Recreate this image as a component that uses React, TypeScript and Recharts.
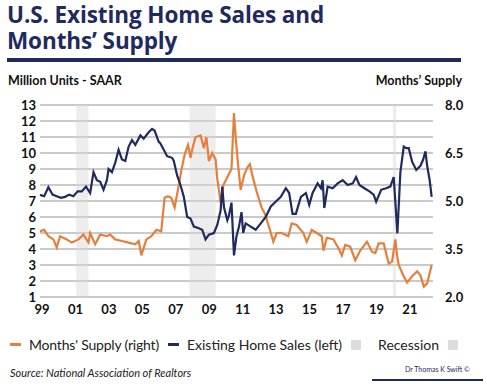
import React from 'react';
import {
  ComposedChart, Line, XAxis, YAxis, CartesianGrid, ReferenceArea,
} from 'recharts';

// Months' supply (plotted against the left scale)
const supplyT = [
  1999.0, 1999.25, 1999.5, 1999.8, 2000.0, 2000.2, 2000.6, 2000.9, 2001.3, 2001.6, 2001.9, 2002.0,
  2002.3, 2002.6, 2003.0, 2003.2, 2003.5, 2003.9, 2004.3, 2004.7, 2004.9, 2005.06, 2005.36, 2005.66,
  2005.96, 2006.25, 2006.45, 2006.65, 2006.85, 2007.05, 2007.25, 2007.45, 2007.65, 2007.85, 2008.0,
  2008.1, 2008.3, 2008.6, 2008.8, 2008.95, 2009.1, 2009.3, 2009.5, 2009.6, 2009.8, 2009.97, 2010.25,
  2010.45, 2010.6, 2010.7, 2010.85, 2011.0, 2011.2, 2011.4, 2011.55, 2011.7, 2011.95, 2012.25, 2012.45,
  2012.75, 2012.95, 2013.15, 2013.45, 2013.85, 2014.05, 2014.35, 2014.75, 2014.95, 2015.25, 2015.55,
  2015.85, 2015.95, 2016.15, 2016.55, 2016.85, 2017.05, 2017.25, 2017.55, 2017.85, 2018.15, 2018.55,
  2018.85, 2019.05, 2019.25, 2019.55, 2019.85, 2020.05, 2020.25, 2020.35, 2020.45, 2020.75, 2020.95,
  2021.25, 2021.55, 2021.75, 2021.95, 2022.15, 2022.42,
];
const supplyV = [
  5.1, 5.2, 4.8, 4.6, 4.1, 4.8, 4.6, 4.4, 4.6, 4.9, 4.4, 5.0,
  4.3, 4.9, 4.8, 4.9, 4.6, 4.5, 4.4, 4.3, 4.5, 3.6, 4.6, 4.8,
  5.2, 5.1, 7.2, 7.3, 7.2, 6.6, 7.7, 8.9, 9.9, 10.5, 9.7,
  10.2, 11.0, 11.1, 10.3, 11.0, 9.5, 10.0, 9.6, 8.4, 6.9, 8.0, 8.6,
  9.0, 12.5, 11.0, 9.2, 7.7, 8.6, 9.1, 9.3, 8.6, 7.6, 6.6, 6.2,
  5.2, 4.45, 5.0, 5.0, 4.8, 5.6, 5.5, 5.0, 4.45, 5.2, 5.0,
  4.8, 3.9, 4.7, 4.6, 4.05, 3.6, 4.25, 4.15, 3.3, 3.9, 4.45,
  3.83, 3.75, 4.35, 4.35, 3.1, 3.2, 4.6, 3.6, 3.0, 2.3, 1.9,
  2.3, 2.6, 2.35, 1.65, 1.85, 3.0,
];

// Existing home sales, million units SAAR (plotted against the right scale)
const salesT = [
  1999.0, 1999.25, 1999.5, 1999.75, 2000.0, 2000.25, 2000.5, 2000.75, 2001.0, 2001.25, 2001.5, 2001.75,
  2002.0, 2002.2, 2002.4, 2002.6, 2002.8, 2003.0, 2003.1, 2003.3, 2003.5, 2003.7, 2003.9, 2004.1,
  2004.3, 2004.5, 2004.7, 2005.0, 2005.2, 2005.5, 2005.7, 2005.85, 2006.1, 2006.2, 2006.4, 2006.6,
  2006.9, 2007.0, 2007.2, 2007.4, 2007.6, 2007.8, 2008.0, 2008.2, 2008.5, 2008.7, 2008.9, 2009.1,
  2009.4, 2009.6, 2009.8, 2009.9, 2010.0, 2010.2, 2010.3, 2010.45, 2010.6, 2010.75, 2010.9, 2011.05,
  2011.15, 2011.3, 2011.6, 2011.9, 2012.2, 2012.5, 2012.8, 2013.2, 2013.4, 2013.7, 2013.9, 2014.1,
  2014.3, 2014.6, 2014.9, 2015.1, 2015.3, 2015.6, 2015.8, 2015.9, 2016.0, 2016.2, 2016.5, 2016.8,
  2017.1, 2017.4, 2017.7, 2017.9, 2018.1, 2018.4, 2018.7, 2018.95, 2019.1, 2019.4, 2019.7, 2019.95,
  2020.15, 2020.37, 2020.55, 2020.75, 2020.9, 2021.05, 2021.25, 2021.5, 2021.75, 2021.9, 2022.05,
  2022.15, 2022.3, 2022.42,
];
const salesV = [
  5.19, 5.15, 5.43, 5.2, 5.15, 5.1, 5.13, 5.2, 5.15, 5.3, 5.3, 5.45,
  5.25, 5.9, 5.65, 5.6, 5.35, 5.65, 6.0, 5.9, 6.2, 6.6, 6.3, 6.25,
  6.7, 6.9, 6.75, 7.05, 6.95, 7.15, 7.25, 7.2, 6.85, 6.8, 6.6, 6.4,
  6.35, 6.25, 5.8, 5.5, 5.13, 4.5, 4.45, 4.2, 4.15, 4.1, 3.8, 3.95,
  4.0, 4.25, 4.7, 5.45, 4.8, 4.4, 4.55, 4.95, 3.3, 3.9, 4.2, 4.65,
  4.0, 4.3, 4.2, 4.1, 4.3, 4.5, 4.83, 5.03, 5.13, 5.4, 5.25, 4.6,
  4.6, 5.13, 5.25, 4.88, 5.25, 5.55, 5.4, 5.65, 4.78, 5.45, 5.4, 5.55,
  5.65, 5.5, 5.55, 5.75, 5.5, 5.4, 5.3, 5.2, 4.98, 5.35, 5.4, 5.45,
  5.75, 3.99, 5.9, 6.7, 6.65, 6.65, 6.23, 5.97, 6.1, 6.28, 6.55,
  6.1, 5.65, 5.13,
];

const yearTicks = [1999, 2001, 2003, 2005, 2007, 2009, 2011, 2013, 2015, 2017, 2019, 2021];
const leftTicks = [1, 2, 3, 4, 5, 6, 7, 8, 9, 10, 11, 12, 13];
const rightTicks = [2.0, 3.5, 5.0, 6.5, 8.0];
const recessions = [[2001.17, 2001.9], [2007.95, 2009.5], [2020.1, 2020.3]];

const supplyData = supplyT.map((t, i) => ({ t, supply: supplyV[i] }));
const salesData = salesT.map((t, i) => ({ t, sales: salesV[i] }));

const NAVY = '#1f2a5e';
const ORANGE = '#e57f3c';
const FONT = 'Lato, "Open Sans", sans-serif';

const App = () => {
  const tickStyle = { fontSize: 13, fontWeight: 700, fill: '#111', fontFamily: FONT };
  const titleLine = {
    position: 'absolute' as const, left: 7, fontSize: 22.5, fontWeight: 700, lineHeight: '24px',
    color: NAVY, fontFamily: '"Open Sans", sans-serif', letterSpacing: -0.1, whiteSpace: 'nowrap' as const,
  };
  return (
    <div style={{ position: 'absolute', left: 0, top: 0, width: 487, height: 384, background: '#fff', fontFamily: FONT, overflow: 'hidden' }}>
      <div style={{ ...titleLine, top: 3 }}>U.S. Existing Home Sales and</div>
      <div style={{ ...titleLine, top: 29 }}>Months’ Supply</div>
      <div style={{ position: 'absolute', left: 7, top: 58, width: 454, height: 4, background: NAVY }} />
      <div style={{ position: 'absolute', left: 8, top: 73, fontSize: 12.5, fontWeight: 700, color: '#111' }}>Million Units - SAAR</div>
      <div style={{ position: 'absolute', right: 25, top: 73, fontSize: 12.5, fontWeight: 700, color: '#111' }}>Months’ Supply</div>

      <div style={{ position: 'absolute', left: 0, top: 0 }}>
        <ComposedChart width={487} height={330} margin={{ top: 105, right: 0, bottom: 3, left: 0 }}>
          <CartesianGrid vertical={false} stroke="#b9b9b9" strokeWidth={1.3} yAxisId="left" />
          <XAxis
            type="number"
            dataKey="t"
            domain={[1999, 2022.5]}
            ticks={yearTicks.map((y) => y + 0.12)}
            tickFormatter={(v) => String(Math.floor(v) % 100).padStart(2, '0')}
            axisLine={false}
            tickLine={false}
            tick={tickStyle}
            height={30}
            allowDuplicatedCategory={false}
          />
          <YAxis
            yAxisId="left"
            domain={[1, 13]}
            ticks={leftTicks}
            axisLine={false}
            tickLine={false}
            tickSize={2}
            tick={tickStyle}
            width={40}
            interval={0}
          />
          <YAxis
            yAxisId="right"
            orientation="right"
            domain={[2, 8]}
            ticks={rightTicks}
            tickFormatter={(v) => v.toFixed(1)}
            axisLine={false}
            tickLine={false}
            tickSize={10}
            tick={{ ...tickStyle, textAnchor: 'start' }}
            width={54}
            interval={0}
          />
          {recessions.map(([a, b], i) => (
            <ReferenceArea key={i} yAxisId="left" x1={a} x2={b} y1={1} y2={13} fill="#d6d6d6" fillOpacity={0.45} stroke="none" ifOverflow="hidden" />
          ))}
          <Line yAxisId="left" data={supplyData} dataKey="supply" type="linear" stroke={ORANGE} strokeWidth={2.2} dot={false} isAnimationActive={false} />
          <Line yAxisId="right" data={salesData} dataKey="sales" type="linear" stroke={NAVY} strokeWidth={2.2} dot={false} isAnimationActive={false} />
        </ComposedChart>
      </div>

      <div style={{ position: 'absolute', left: 10, top: 336, fontSize: 14, color: '#222', display: 'flex', alignItems: 'center', whiteSpace: 'nowrap' }}>
        <span style={{ display: 'inline-block', width: 11, height: 3, background: ORANGE, marginRight: 8 }} />
        <span style={{ letterSpacing: -0.2 }}>Months' Supply (right)</span>
        <span style={{ display: 'inline-block', width: 11, height: 3, background: NAVY, margin: '0 8px 0 9px' }} />
        <span>Existing Home Sales (left)</span>
        <span style={{ display: 'inline-block', width: 10, height: 10, background: '#dcdcdc', margin: '0 17px 0 9px' }} />
        <span>Recession</span>
        <span style={{ display: 'inline-block', width: 10, height: 10, background: '#dcdcdc', marginLeft: 9 }} />
      </div>

      <div style={{ position: 'absolute', left: 10, top: 366, fontSize: 11, fontStyle: 'italic', color: '#222' }}>
        Source: National Association of Realtors
      </div>
      <div style={{ position: 'absolute', left: 405, top: 365, fontSize: 7, color: NAVY }}>Dr Thomas K Swift ©</div>
      <div style={{ position: 'absolute', left: 372, top: 379, width: 111, height: 2, background: NAVY }} />
    </div>
  );
};

export default App;
